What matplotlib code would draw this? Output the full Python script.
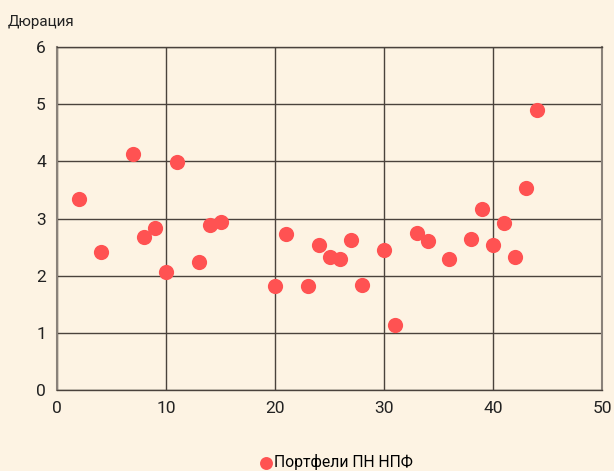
import numpy as np
import matplotlib
matplotlib.use("Agg")
import matplotlib.pyplot as plt

plt.rcParams['font.family'] = ['Roboto', 'DejaVu Sans']

# portfolio number vs duration
x_vals = [2, 4, 7, 8, 9, 10, 11, 13, 14, 15, 20, 21, 23, 24, 25, 26, 27, 28,
          30, 31, 33, 34, 36, 38, 39, 40, 41, 42, 43, 44]
y_vals = [3.34, 2.41, 4.13, 2.68, 2.83, 2.06, 3.99, 2.24, 2.89, 2.94, 1.82, 2.73,
          1.82, 2.54, 2.33, 2.29, 2.62, 1.84, 2.45, 1.14, 2.75, 2.61, 2.29, 2.64,
          3.17, 2.54, 2.92, 2.33, 3.53, 4.90]
x_ticks = [0, 10, 20, 30, 40, 50]
y_ticks = [0, 1, 2, 3, 4, 5, 6]

bg = '#fdf3e3'
grid_col = '#4a423c'

fig = plt.figure(figsize=(6.14, 4.71), dpi=100, facecolor=bg)
ax = fig.add_axes([57/614, 1 - 390/471, 545/614, 343/471])
ax.set_facecolor(bg)

ax.scatter(x_vals, y_vals, s=120, color='#ff5252', zorder=3,
           label='Портфели ПН НПФ', linewidths=0)

ax.set_xlim(0, 50)
ax.set_ylim(0, 6)
ax.set_xticks(x_ticks)
ax.set_yticks(y_ticks)
ax.grid(True, color=grid_col, linewidth=1.0)
ax.tick_params(length=0, labelsize=12.5, colors='#222222', pad=8)
for side in ['left', 'right', 'top', 'bottom']:
    ax.spines[side].set_color('#8a827a')
    ax.spines[side].set_linewidth(1.5)
ax.spines['top'].set_color(grid_col)
ax.spines['bottom'].set_color(grid_col)
ax.spines['top'].set_linewidth(1.0)
ax.spines['bottom'].set_linewidth(1.0)

fig.text(8/614, 1 - 22/471, 'Дюрация', fontsize=11, color='#222222', va='center')

fig.legend(loc='center', bbox_to_anchor=(0.54, 1 - 462/471), frameon=False,
           fontsize=11.3, handletextpad=-0.5, markerscale=0.85)

fig.savefig('out.png', dpi=100, facecolor=bg)
